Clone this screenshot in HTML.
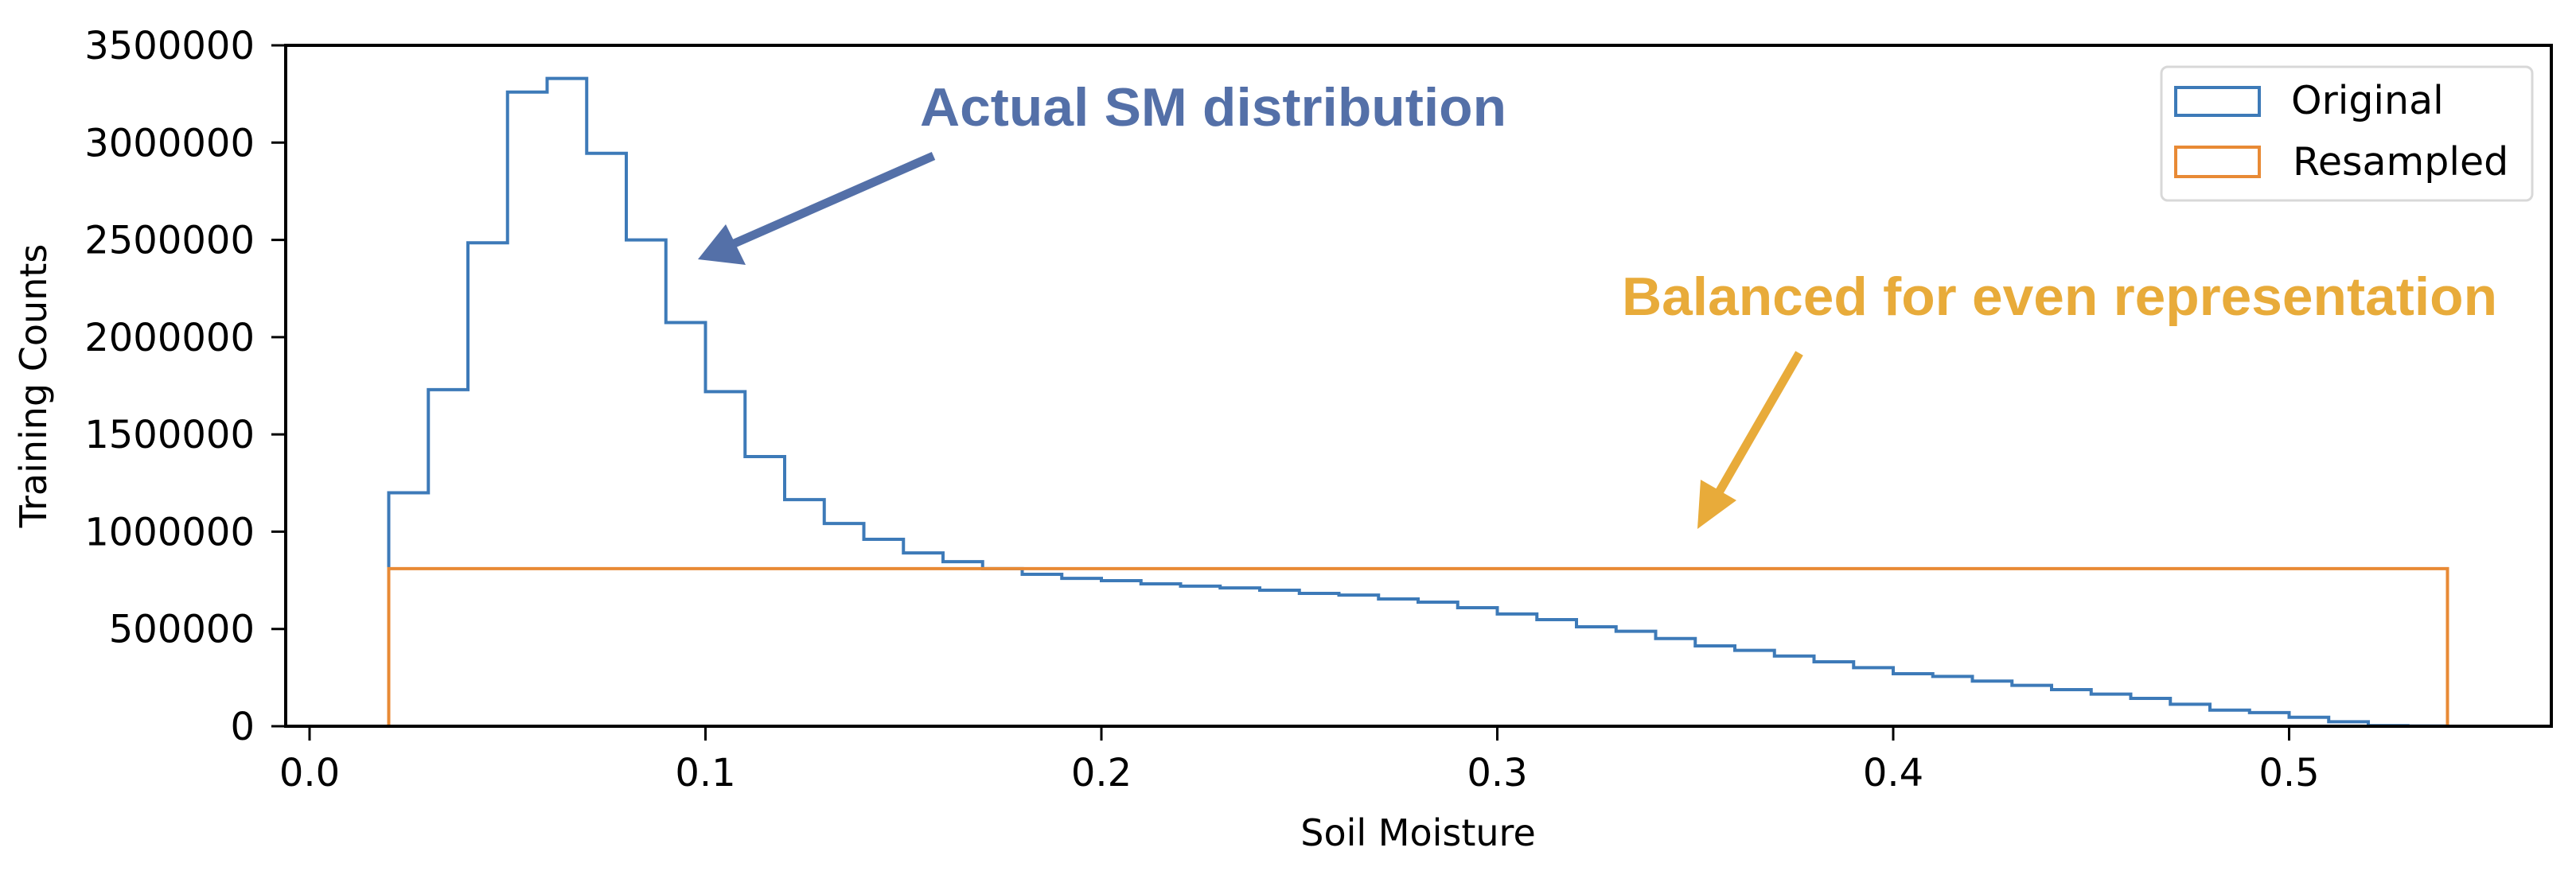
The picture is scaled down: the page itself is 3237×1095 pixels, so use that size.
<!DOCTYPE html>
<html><head><meta charset="utf-8"><style>
html,body{margin:0;padding:0;background:#fff;}
svg{display:block;}
</style></head><body>
<svg id="chart" width="3237" height="1095" viewBox="0 0 3237 1095" xmlns="http://www.w3.org/2000/svg" font-family="'DejaVu Sans', 'Liberation Sans', sans-serif">
<rect x="0" y="0" width="3237" height="1095" fill="#fff"/>
<g id="marks"></g>
<rect x="359" y="57" width="2847" height="856" fill="none" stroke="#000" stroke-width="4"/>
<g id="axes"></g>
<text transform="translate(58,485) rotate(-90)" text-anchor="middle" font-size="46" fill="#000">Training Counts</text>
<text x="1782" y="1063" text-anchor="middle" font-size="46" fill="#000">Soil Moisture</text>

<g>
<rect x="2716" y="84" width="466" height="168" rx="8" fill="#fff" stroke="#d8d8d8" stroke-width="3"/>
<rect x="2734" y="110" width="105" height="35" fill="none" stroke="#3d7ab8" stroke-width="4"/>
<text x="2879" y="143" font-size="49" fill="#000">Original</text>
<rect x="2734" y="185" width="105" height="37" fill="none" stroke="#e88a35" stroke-width="4"/>
<text x="2881" y="220" font-size="49" fill="#000">Resampled</text>
</g>

<g>
<text x="1156" y="158" font-family="'Liberation Sans', sans-serif" font-weight="bold" font-size="68" fill="#5470a8" textLength="737" lengthAdjust="spacingAndGlyphs">Actual SM distribution</text>
<line x1="1173" y1="196" x2="900" y2="316" stroke="#5470a8" stroke-width="11"/>
<polygon points="877,326 912,282 937,333" fill="#5470a8"/>
</g>
<g>
<text x="2038" y="396" font-family="'Liberation Sans', sans-serif" font-weight="bold" font-size="68" fill="#e8ab3a" textLength="1100" lengthAdjust="spacingAndGlyphs">Balanced for even representation</text>
<line x1="2261" y1="444" x2="2145" y2="645" stroke="#e8ab3a" stroke-width="11"/>
<polygon points="2133,665 2137,603 2182,629" fill="#e8ab3a"/>
</g>
</svg>
<script>
const binStarts = [0.02,0.03,0.04,0.05,0.06,0.07,0.08,0.09,0.10,0.11,0.12,0.13,0.14,0.15,0.16,0.17,0.18,0.19,0.20,0.21,0.22,0.23,0.24,0.25,0.26,0.27,0.28,0.29,0.30,0.31,0.32,0.33,0.34,0.35,0.36,0.37,0.38,0.39,0.40,0.41,0.42,0.43,0.44,0.45,0.46,0.47,0.48,0.49,0.50,0.51,0.52,0.53];
const originalCounts = [1200000,1730000,2485000,3260000,3330000,2945000,2500000,2075000,1720000,1386000,1165000,1042000,961000,891000,846000,810000,781000,760000,748000,732000,720000,711000,699000,683000,674000,654000,638000,609000,577000,548000,511000,488000,451000,413000,390000,361000,331000,301000,270000,256000,232000,210000,188000,165000,143000,113000,83000,70000,46000,23000,3000,1000];
const resampledCounts = binStarts.map(() => 810000);
const binWidth = 0.01;
const xTicks = [0.0,0.1,0.2,0.3,0.4,0.5];
const xTickLabels = ["0.0","0.1","0.2","0.3","0.4","0.5"];
const yTicks = [0,500000,1000000,1500000,2000000,2500000,3000000,3500000];
const yTickLabels = ["0","500000","1000000","1500000","2000000","2500000","3000000","3500000"];

const NS = "http://www.w3.org/2000/svg";
const X0 = 389, XS = 4975;
const Y0 = 913, YS = 856/3500000;
const xScale = v => X0 + v*XS;
const yScale = v => Y0 - v*YS;

function stepPath(vals){
  let d = "M" + xScale(binStarts[0]) + "," + yScale(0);
  binStarts.forEach((b,i)=>{
    d += " L" + xScale(b) + "," + yScale(vals[i]);
    d += " L" + xScale(b+binWidth) + "," + yScale(vals[i]);
  });
  d += " L" + xScale(binStarts[binStarts.length-1]+binWidth) + "," + yScale(0);
  return d;
}
const marks = document.getElementById("marks");
const pOrig = document.createElementNS(NS,"path");
pOrig.setAttribute("d", stepPath(originalCounts));
pOrig.setAttribute("fill","none");
pOrig.setAttribute("stroke","#3d7ab8");
pOrig.setAttribute("stroke-width","4");


marks.appendChild(pOrig);
const pRes = document.createElementNS(NS,"path");
pRes.setAttribute("d", stepPath(resampledCounts));
pRes.setAttribute("fill","none");
pRes.setAttribute("stroke","#e88a35");
pRes.setAttribute("stroke-width","4");


marks.appendChild(pRes);

const axes = document.getElementById("axes");
xTicks.forEach((t,i)=>{
  const x = xScale(t);
  const l = document.createElementNS(NS,"line");
  l.setAttribute("x1",x); l.setAttribute("x2",x);
  l.setAttribute("y1",913); l.setAttribute("y2",931);
  l.setAttribute("stroke","#000"); l.setAttribute("stroke-width","3");
  
  
  axes.appendChild(l);
  const tx = document.createElementNS(NS,"text");
  tx.setAttribute("x",x); tx.setAttribute("y",988);
  tx.setAttribute("text-anchor","middle"); tx.setAttribute("font-size","48");
  tx.textContent = xTickLabels[i];
  
  
  axes.appendChild(tx);
});
yTicks.forEach((t,i)=>{
  const y = yScale(t);
  const l = document.createElementNS(NS,"line");
  l.setAttribute("x1",341); l.setAttribute("x2",359);
  l.setAttribute("y1",y); l.setAttribute("y2",y);
  l.setAttribute("stroke","#000"); l.setAttribute("stroke-width","3");
  
  
  axes.appendChild(l);
  const tx = document.createElementNS(NS,"text");
  tx.setAttribute("x",320); tx.setAttribute("y",y+17);
  tx.setAttribute("text-anchor","end"); tx.setAttribute("font-size","48");
  tx.textContent = yTickLabels[i];
  
  
  axes.appendChild(tx);
});
</script>
</body></html>
